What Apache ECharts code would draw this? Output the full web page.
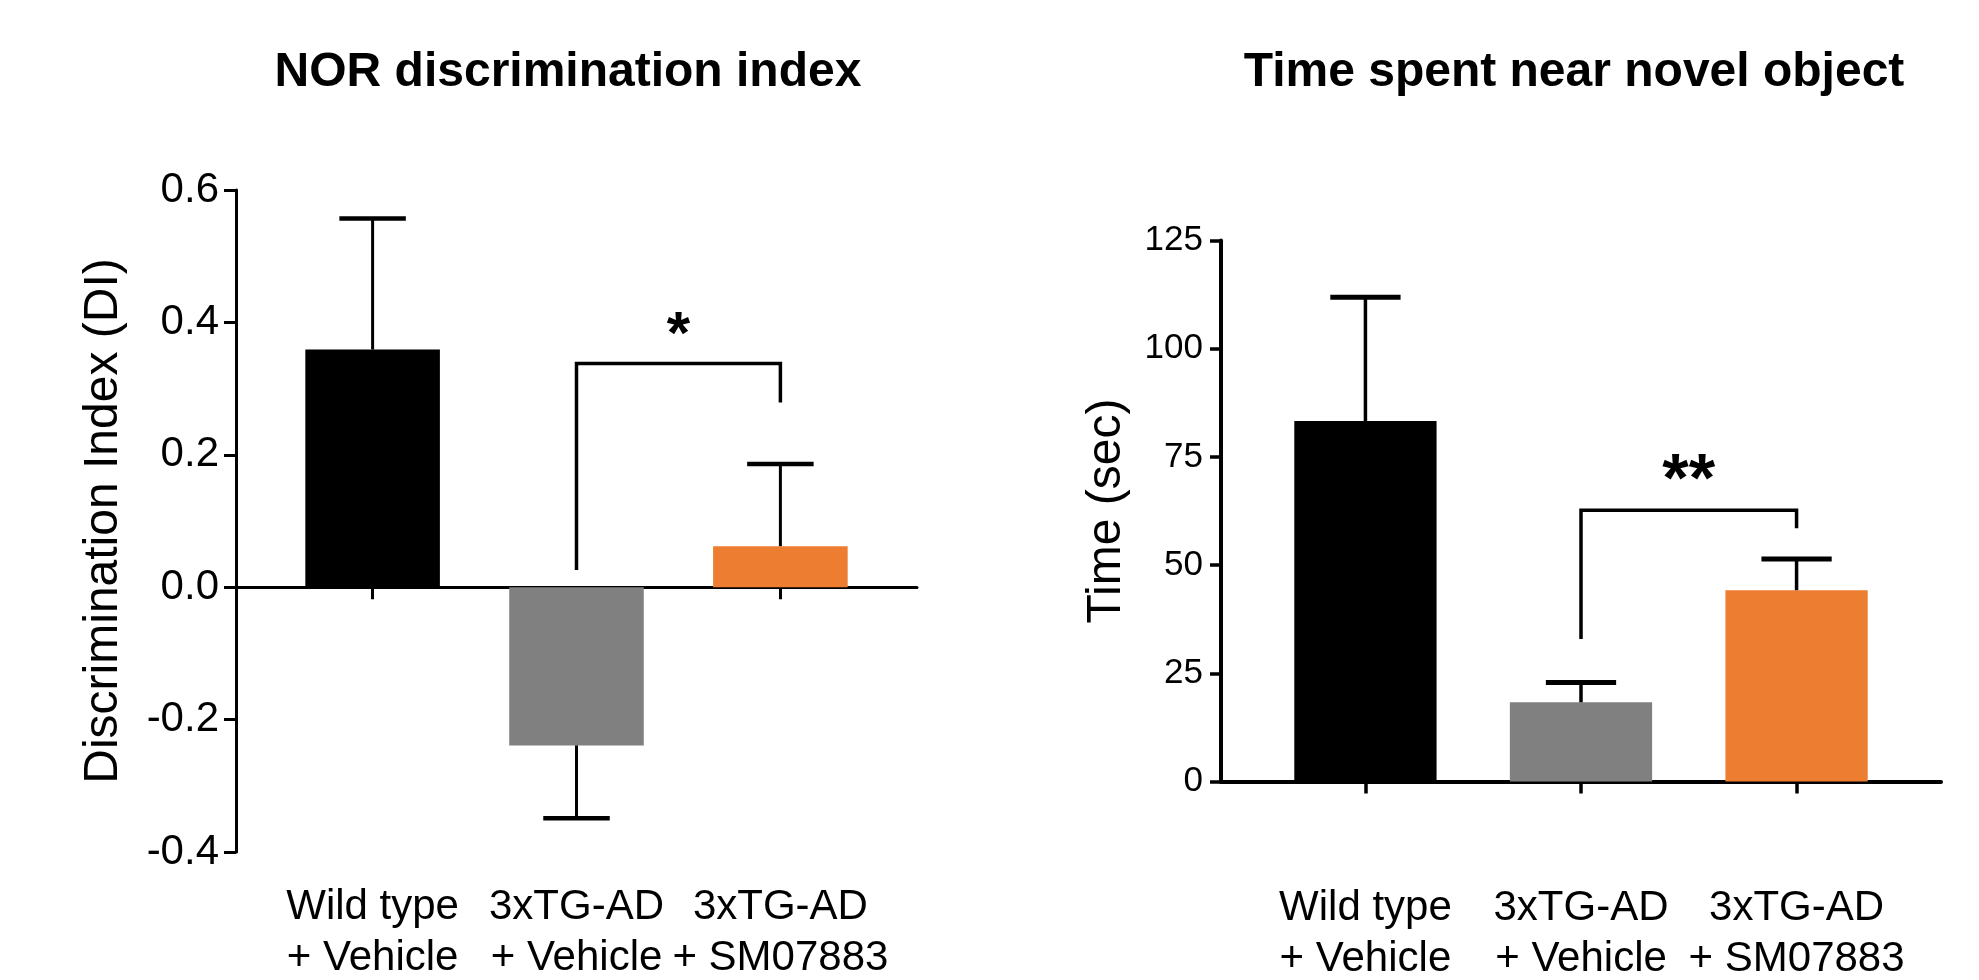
<!DOCTYPE html>
<html>
<head>
<meta charset="utf-8">
<script src="https://cdn.jsdelivr.net/npm/echarts@6/dist/echarts.min.js"></script>
<style>
  html, body { margin: 0; padding: 0; background: #fff; }
  #chart { width: 1979px; height: 980px; }
</style>
</head>
<body>
<div id="chart"></div>
<script>
// ---------- data ----------
const categories = ['Wild type\n+ Vehicle', '3xTG-AD\n+ Vehicle', '3xTG-AD\n+ SM07883'];
const barColors = ['#000000', '#808080', '#ED7D31'];

// Left panel: NOR discrimination index
const diMeans = [0.359, -0.239, 0.062];
const diErrors = [0.198, 0.110, 0.124];
const diTicks = [-0.4, -0.2, 0.0, 0.2, 0.4, 0.6];
// bracket: [fromCat, toCat, top, leftEnd, rightEnd]
const diBracket = [1, 2, 0.338, 0.026, 0.279];
const diStar = [1.5, 0.398, '*'];

// Right panel: Time spent near novel object
const timeMeans = [83.3, 18.3, 44.2];
const timeErrors = [28.6, 4.6, 7.2];
const timeTicks = [0, 25, 50, 75, 100, 125];
const timeBracket = [1, 2, 62.7, 32.9, 58.5];
const timeStar = [1.5, 72.5, '**'];

// ---------- helpers ----------
const FONT = '"Liberation Sans", Arial, Helvetica, sans-serif';
const X_MIN = -0.67, X_MAX = 2.67;
const BAR_HALF = 0.33, CAP_HALF = 0.163;
const catIdx = [0, 1, 2];

function barRenderer(stemW, capW) {
  return function (params, api) {
    const i = api.value(0), v = api.value(1), e = api.value(2);
    const s = v < 0 ? -1 : 1;
    const a = api.coord([i - BAR_HALF, 0]);
    const b = api.coord([i + BAR_HALF, v]);
    const top = api.coord([i, v]);
    const end = api.coord([i, v + s * e]);
    const cl = api.coord([i - CAP_HALF, v + s * e]);
    const cr = api.coord([i + CAP_HALF, v + s * e]);
    return {
      type: 'group',
      children: [
        { type: 'rect', shape: { x: a[0], y: Math.min(a[1], b[1]), width: b[0] - a[0], height: Math.abs(b[1] - a[1]) },
          style: { fill: barColors[i] } },
        { type: 'line', shape: { x1: top[0], y1: top[1], x2: end[0], y2: end[1] },
          style: { stroke: '#000', lineWidth: stemW } },
        { type: 'line', shape: { x1: cl[0], y1: cl[1], x2: cr[0], y2: cr[1] },
          style: { stroke: '#000', lineWidth: capW } }
      ]
    };
  };
}

function makeBracket(br, star, lw, starSize) {
  return function (params, api) {
    const p1 = api.coord([br[0], br[3]]);
    const p2 = api.coord([br[0], br[2]]);
    const p3 = api.coord([br[1], br[2]]);
    const p4 = api.coord([br[1], br[4]]);
    const sp = api.coord([star[0], star[1]]);
    return {
      type: 'group',
      children: [
        { type: 'polyline', shape: { points: [p1, p2, p3, p4] },
          style: { stroke: '#000', lineWidth: lw, fill: null, lineJoin: 'miter' } },
        { type: 'text', x: sp[0], y: sp[1] + starSize * 0.22,
          style: { text: star[2], fill: '#000', font: 'bold ' + starSize + 'px ' + FONT,
                   textAlign: 'center', textVerticalAlign: 'middle', align: 'center', verticalAlign: 'middle' } }
      ]
    };
  };
}

const chart = echarts.init(document.getElementById('chart'));

const option = {
  backgroundColor: '#ffffff',
  animation: false,
  title: [
    { text: 'NOR discrimination index', left: 568, top: 49, textAlign: 'center', padding: 0,
      textStyle: { fontFamily: FONT, fontWeight: 'bold', fontSize: 48, color: '#000' } },
    { text: 'Time spent near novel object', left: 1574, top: 49, textAlign: 'center', padding: 0,
      textStyle: { fontFamily: FONT, fontWeight: 'bold', fontSize: 48, color: '#000' } }
  ],
  grid: [
    { left: 236, top: 190, width: 681, height: 662, containLabel: false, outerBoundsMode: 'none' },
    { left: 1221, top: 240.5, width: 720, height: 541, containLabel: false, outerBoundsMode: 'none' }
  ],
  xAxis: [
    { // left: zero line with ticks
      gridIndex: 0, type: 'value', min: X_MIN, max: X_MAX, position: 'bottom',
      axisLine: { show: true, onZero: true, lineStyle: { color: '#000', width: 3 } },
      axisTick: { show: true, customValues: catIdx, length: 12, inside: false, lineStyle: { color: '#000', width: 3 } },
      axisLabel: { show: false },
      splitLine: { show: false }
    },
    { // left: category labels at bottom
      gridIndex: 0, type: 'value', min: X_MIN, max: X_MAX, position: 'bottom',
      axisLine: { show: false, onZero: false },
      axisTick: { show: false },
      axisLabel: { show: true, customValues: catIdx, margin: 30,
        formatter: v => categories[Math.round(v)] || '',
        fontFamily: FONT, fontSize: 42, lineHeight: 51, color: '#000' },
      splitLine: { show: false }
    },
    { // right
      gridIndex: 1, type: 'value', min: X_MIN, max: X_MAX, position: 'bottom',
      axisLine: { show: true, onZero: true, lineStyle: { color: '#000', width: 4 } },
      axisTick: { show: true, customValues: catIdx, length: 12, lineStyle: { color: '#000', width: 3.5 } },
      axisLabel: { show: true, customValues: catIdx, margin: 101,
        formatter: v => categories[Math.round(v)] || '',
        fontFamily: FONT, fontSize: 42, lineHeight: 51, color: '#000' },
      splitLine: { show: false }
    }
  ],
  yAxis: [
    {
      gridIndex: 0, type: 'value', min: diTicks[0], max: diTicks[diTicks.length - 1], interval: 0.2,
      name: 'Discrimination Index (DI)', nameLocation: 'middle', nameGap: 108,
      nameTextStyle: { fontFamily: FONT, fontSize: 48, color: '#000' },
      axisLine: { show: true, onZero: false, lineStyle: { color: '#000', width: 3 } },
      axisTick: { show: true, length: 12, lineStyle: { color: '#000', width: 3 } },
      axisLabel: { fontFamily: FONT, fontSize: 42, color: '#000', margin: 17,
        formatter: v => Number(v).toFixed(1) },
      splitLine: { show: false }
    },
    {
      gridIndex: 1, type: 'value', min: timeTicks[0], max: timeTicks[timeTicks.length - 1], interval: 25,
      name: 'Time (sec)', nameLocation: 'middle', nameGap: 90,
      nameTextStyle: { fontFamily: FONT, fontSize: 48, color: '#000' },
      axisLine: { show: true, onZero: false, lineStyle: { color: '#000', width: 4 } },
      axisTick: { show: true, length: 11, lineStyle: { color: '#000', width: 3.5 } },
      axisLabel: { fontFamily: FONT, fontSize: 35, color: '#000', margin: 18 },
      splitLine: { show: false }
    }
  ],
  series: [
    {
      type: 'custom', xAxisIndex: 0, yAxisIndex: 0,
      renderItem: barRenderer(3, 4.5),
      data: diMeans.map((v, i) => [i, v, diErrors[i]]),
      z: 3
    },
    {
      type: 'custom', xAxisIndex: 0, yAxisIndex: 0,
      renderItem: makeBracket(diBracket, diStar, 3.5, 60),
      data: [[diBracket[0], diBracket[2]]],
      z: 4
    },
    {
      type: 'custom', xAxisIndex: 2, yAxisIndex: 1,
      renderItem: barRenderer(3.5, 5),
      data: timeMeans.map((v, i) => [i, v, timeErrors[i]]),
      z: 3
    },
    {
      type: 'custom', xAxisIndex: 2, yAxisIndex: 1,
      renderItem: makeBracket(timeBracket, timeStar, 3.5, 68),
      data: [[timeBracket[0], timeBracket[2]]],
      z: 4
    }
  ]
};

chart.setOption(option);
</script>
</body>
</html>
